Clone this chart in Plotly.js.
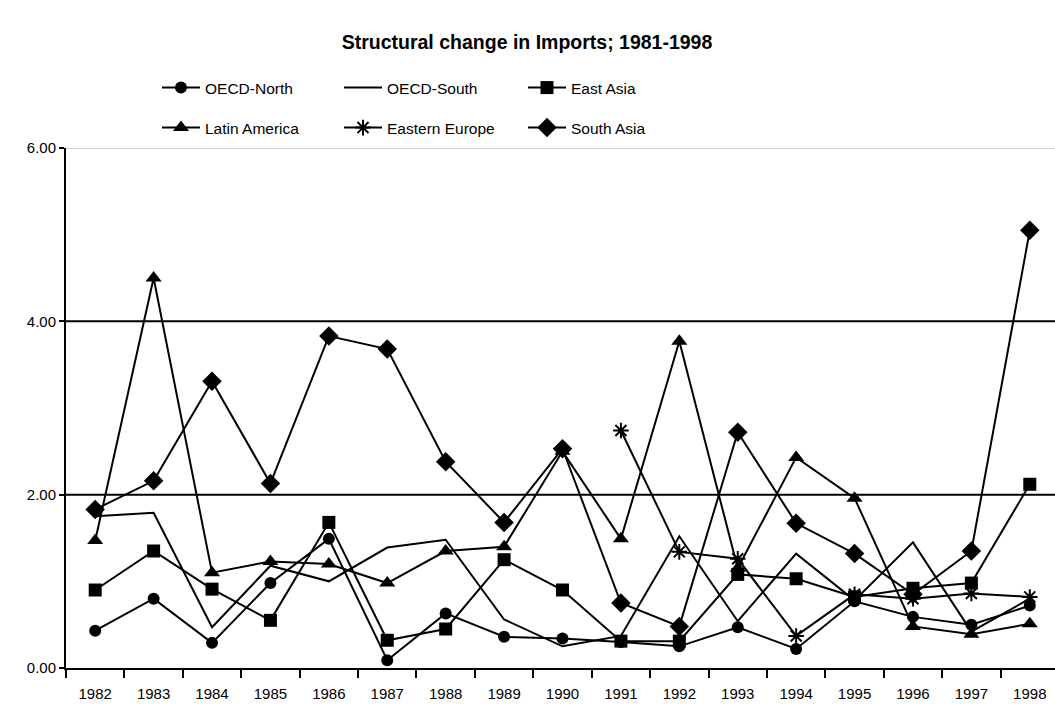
<!DOCTYPE html>
<html>
<head>
<meta charset="utf-8">
<script src="https://cdn.plot.ly/plotly-3.0.1.min.js"></script>
<style>
html,body{margin:0;padding:0;overflow:hidden;background:#fff;}
#chart{width:1062px;height:712px;}
</style>
</head>
<body>
<div id="chart"></div>
<script>
var years = ['1982','1983','1984','1985','1986','1987','1988','1989','1990','1991','1992','1993','1994','1995','1996','1997','1998'];
var yTicks = [0, 2, 4, 6];

var oecdNorth     = [0.43,0.80,0.29,0.98,1.49,0.09,0.63,0.36,0.34,0.30,0.25,0.47,0.22,0.77,0.59,0.50,0.72];
var oecdSouth     = [1.75,1.79,0.47,1.18,1.00,1.39,1.48,0.56,0.25,0.37,1.52,0.54,1.32,0.78,1.45,0.42,0.80];
var eastAsia      = [0.90,1.35,0.91,0.55,1.68,0.32,0.45,1.25,0.90,0.31,0.31,1.08,1.03,0.82,0.92,0.98,2.12];
var latinAmerica  = [1.47,4.50,1.10,1.23,1.20,0.98,1.35,1.40,2.50,1.49,3.77,1.15,2.43,1.96,0.48,0.39,0.51];
var easternEurope = [null,null,null,null,null,null,null,null,null,2.74,1.34,1.26,0.37,0.85,0.80,0.86,0.82];
var southAsia     = [1.83,2.16,3.31,2.13,3.83,3.68,2.38,1.68,2.53,0.75,0.48,2.72,1.67,1.32,0.85,1.35,5.05];

var FONT = 'Liberation Sans, Arial, sans-serif';
var lineStyle = {color:'#000', width:2};

function tr(name, y, symbol, size, legendId, extra){
  var m = {symbol:symbol, size:size, color:'#000', line:{color:'#000', width:0}};
  if (extra) for (var k in extra) m[k] = extra[k];
  return {
    x: years, y: y, name: name, type:'scatter',
    mode: symbol ? 'lines+markers' : 'lines',
    line: lineStyle, marker: m, legend: legendId, connectgaps:false
  };
}

var data = [
  tr('OECD-North', oecdNorth, 'circle', 12, 'legend'),
  tr('OECD-South', oecdSouth, null, 0, 'legend2'),
  tr('East Asia', eastAsia, 'square', 13, 'legend3'),
  tr('Latin America', latinAmerica, 'triangle-up', 14, 'legend4'),
  tr('Eastern Europe', easternEurope, 'asterisk-open', 13, 'legend5', {line:{color:'#000', width:2}}),
  tr('South Asia', southAsia, 'diamond', 15, 'legend6')
];
data[1].mode = 'lines';
delete data[1].marker;

var L = 66, R = 3, T = 148, B = 44;
var plotW = 1062 - L - R, plotH = 712 - T - B;
function px2x(px){ return (px - L) / plotW; }
function py2y(py){ return 1 + (T - py) / plotH; }

function legendAt(lineStartPx, rowPy){
  return {
    x: px2x(lineStartPx - 5), xanchor:'left',
    y: py2y(rowPy), yanchor:'middle',
    orientation:'h', bgcolor:'rgba(0,0,0,0)', borderwidth:0,
    font:{family:FONT, size:15.5, color:'#000'},
    itemwidth:38, itemclick:false, itemdoubleclick:false
  };
}

var gridShapes = [
  {type:'line', xref:'paper', yref:'y', x0:0, x1:1, y0:yTicks[1], y1:yTicks[1], line:{color:'#000', width:2}, layer:'below'},
  {type:'line', xref:'paper', yref:'y', x0:0, x1:1, y0:yTicks[2], y1:yTicks[2], line:{color:'#000', width:2}, layer:'below'},
  {type:'line', xref:'paper', yref:'y', x0:0, x1:1, y0:yTicks[3], y1:yTicks[3], line:{color:'#c4c4c4', width:1.5}, layer:'below'}
];

var layout = {
  width:1062, height:712,
  margin:{l:L, r:R, t:T, b:B, pad:0},
  paper_bgcolor:'#fff', plot_bgcolor:'#fff',
  font:{family:FONT, size:15, color:'#000'},
  title:{
    text:'<b>Structural change in Imports; 1981-1998</b>',
    font:{family:FONT, size:19.5, color:'#000'},
    xref:'container', x:527/1062, xanchor:'center',
    yref:'container', y:1 - 42/712, yanchor:'middle'
  },
  showlegend:true,
  legend:  legendAt(162, 88),
  legend2: legendAt(344, 88),
  legend3: legendAt(528, 88),
  legend4: legendAt(162, 128),
  legend5: legendAt(344, 128),
  legend6: legendAt(528, 128),
  xaxis:{
    type:'category', range:[-0.5, years.length - 0.5],
    tickson:'boundaries', ticks:'outside', ticklen:8, tickwidth:2, tickcolor:'#000',
    showline:true, linewidth:2, linecolor:'#000',
    showgrid:false, zeroline:false,
    tickfont:{family:FONT, size:15, color:'#000'},
    ticklabelstandoff:11, fixedrange:true
  },
  yaxis:{
    range:[0, 6], tickvals:yTicks, tickformat:'.2f',
    ticks:'outside', ticklen:5, tickwidth:2, tickcolor:'#000',
    showline:true, linewidth:2, linecolor:'#000',
    showgrid:false, zeroline:false,
    tickfont:{family:FONT, size:15, color:'#000'}, fixedrange:true
  },
  shapes: gridShapes
};

Plotly.newPlot('chart', data, layout, {displayModeBar:false, staticPlot:true});
</script>
</body>
</html>
